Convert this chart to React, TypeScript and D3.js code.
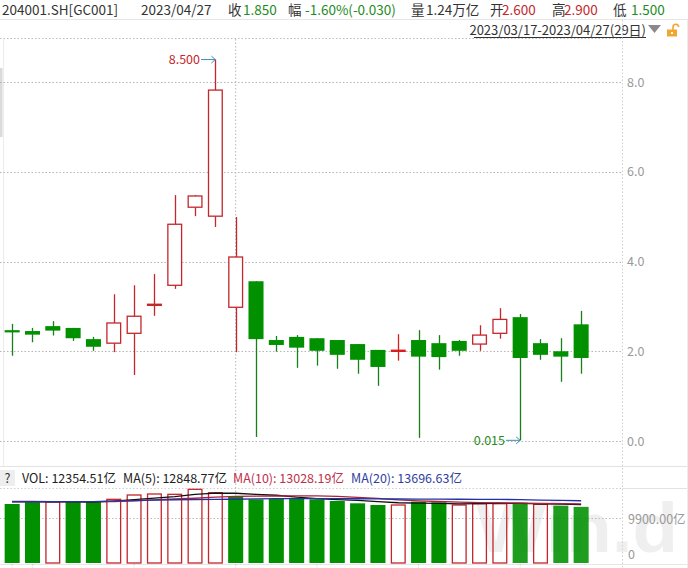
import React from "react";
import * as d3 from "d3";

const dates = [
  "2023-03-17", "2023-03-20", "2023-03-21", "2023-03-22", "2023-03-23", "2023-03-24",
  "2023-03-27", "2023-03-28", "2023-03-29", "2023-03-30", "2023-03-31",
  "2023-04-03", "2023-04-04", "2023-04-06", "2023-04-07",
  "2023-04-10", "2023-04-11", "2023-04-12", "2023-04-13", "2023-04-14",
  "2023-04-17", "2023-04-18", "2023-04-19", "2023-04-20", "2023-04-21",
  "2023-04-24", "2023-04-25", "2023-04-26", "2023-04-27",
];
const openP = [2.47, 2.45, 2.56, 2.52, 2.27, 2.18, 2.40, 3.01, 3.47, 5.21, 5.01, 2.98, 3.56, 2.25, 2.32, 2.29, 2.25, 2.16, 2.03, 2.00, 2.25, 2.18, 2.23, 2.16, 2.40, 2.76, 2.18, 2.00, 2.60];
const highP = [2.61, 2.52, 2.67, 2.52, 2.32, 3.27, 3.47, 3.72, 5.48, 5.48, 8.50, 4.99, 3.56, 2.34, 2.36, 2.29, 2.25, 2.16, 2.03, 2.38, 2.47, 2.36, 2.25, 2.58, 2.96, 2.83, 2.27, 2.29, 2.90];
const lowP = [1.90, 2.20, 2.35, 2.23, 2.01, 1.98, 1.47, 2.79, 3.39, 5.01, 4.77, 1.98, 0.09, 1.99, 1.63, 1.68, 1.61, 1.50, 1.23, 1.79, 0.07, 1.59, 1.90, 2.01, 2.28, 0.015, 1.81, 1.32, 1.50];
const closeP = [2.42, 2.37, 2.46, 2.29, 2.10, 2.63, 2.78, 3.06, 4.83, 5.46, 7.82, 4.10, 2.27, 2.14, 2.08, 2.01, 1.92, 1.81, 1.65, 2.02, 1.88, 1.87, 2.01, 2.36, 2.71, 1.85, 1.92, 1.88, 1.85];

// volume in 亿
const volume = [12980, 13350, 13420, 13640, 13640, 14010, 14960, 15180, 15110, 16210, 15460, 14740, 14010, 14080, 14080, 14010, 13640, 13130, 12760, 12760, 13490, 13350, 12760, 13050, 13050, 13270, 12910, 12610, 12354.51];
const ma5 = [13480, 13470, 13460, 13440, 13406, 13612, 13934, 14286, 14580, 15094, 15384, 15340, 15106, 14900, 14474, 14184, 13964, 13788, 13524, 13260, 13156, 13098, 13024, 13082, 13140, 13096, 13008, 12978, 12848.77];
const ma10 = [13570, 13560, 13520, 13500, 13490, 13500, 13700, 13900, 14080, 14250, 14498, 14637, 14696, 14740, 14784, 14784, 14652, 14447, 14212, 13867, 13670, 13531, 13406, 13303, 13230, 13170, 13110, 13060, 13028.19];
const ma20 = [13490, 13490, 13490, 13490, 13500, 13650, 13720, 13850, 13920, 13950, 14000, 14030, 14120, 14150, 14160, 14160, 14150, 14140, 14120, 14080, 14050, 14040, 14030, 14010, 13990, 13950, 13850, 13760, 13696.63];

const priceTicks = [0, 2, 4, 6, 8];
const volTicks = [0, 9900];
const weekStarts = ["2023-03-17", "2023-03-20", "2023-03-27", "2023-04-03", "2023-04-10", "2023-04-17", "2023-04-24"];
const monthStart = "2023-04-03";

const RED = "#c4262b";
const GREEN = "#009000";
const GREEN_WICK = "#1a7f1a";
const TXT_GREEN = "#1e8c1e";
const FONT = "'Microsoft YaHei','Noto Sans CJK SC','Noto Sans',sans-serif";

const W = 688;
const H = 568;
const plotRight = 622;

export default function App() {
  const x = d3.scaleBand<string>().domain(dates).range([2, 591.3]).paddingInner(0.26).paddingOuter(0.13);
  const bw = x.bandwidth();
  const cx = (d: string) => (x(d) as number) + bw / 2;
  const y = d3.scaleLinear().domain([0, 8]).range([441, 82]);
  const yv = d3.scaleLinear().domain([0, 9900]).range([563, 518]);

  const maLine = (arr: number[]) =>
    d3.line<number>().x((_, i) => cx(dates[i])).y((v) => yv(v))(arr) as string;

  const header: { x: number; t: string; c: string }[] = [
    { x: 2, t: "204001.SH[GC001]", c: "#333" },
    { x: 141, t: "2023/04/27", c: "#333" },
    { x: 228, t: "收", c: "#333" },
    { x: 243, t: "1.850", c: TXT_GREEN },
    { x: 288, t: "幅", c: "#333" },
    { x: 305, t: "-1.60%(-0.030)", c: TXT_GREEN },
    { x: 411, t: "量", c: "#333" },
    { x: 426, t: "1.24万亿", c: "#333" },
    { x: 490, t: "开", c: "#333" },
    { x: 502, t: "2.600", c: RED },
    { x: 552, t: "高", c: "#333" },
    { x: 564, t: "2.900", c: RED },
    { x: 613, t: "低", c: "#333" },
    { x: 631, t: "1.500", c: TXT_GREEN },
  ];

  const volHeader: { x: number; t: string; c: string }[] = [
    { x: 22, t: "VOL: 12354.51亿", c: "#222" },
    { x: 123, t: "MA(5): 12848.77亿", c: "#222" },
    { x: 233, t: "MA(10): 13028.19亿", c: "#c0304a" },
    { x: 351, t: "MA(20): 13696.63亿", c: "#2f3f9f" },
  ];

  const maxIdx = highP.indexOf(d3.max(highP) as number);
  const minIdx = lowP.indexOf(d3.min(lowP) as number);

  return (
    <svg
      width={W}
      height={H}
      style={{ position: "absolute", left: 0, top: 0, background: "#fff", fontFamily: FONT }}
    >
      <rect x={0} y={0} width={W} height={H} fill="#fff" />

      {/* watermark (behind labels) */}
      <text
        x={476}
        y={552}
        fontSize={70}
        fontWeight="bold"
        fontFamily="'Liberation Sans',Arial,sans-serif"
        fill="#efefef"
        textLength={202}
        lengthAdjust="spacingAndGlyphs"
      >
        Win.d
      </text>

      {/* header */}
      {header.map((h, i) => (
        <text key={i} x={h.x} y={15} fontSize={13.5} fill={h.c}>
          {h.t}
        </text>
      ))}
      <line x1={0} x2={W} y1={19.5} y2={19.5} stroke="#e6e6e6" />
      <text x={646} y={35} fontSize={13} fill="#333" textAnchor="end">
        2023/03/17-2023/04/27(29日)
      </text>
      <line x1={474} x2={646} y1={37.5} y2={37.5} stroke="#333" strokeWidth={1} />
      <path d="M648,25 L661,25 L654.5,33 Z" fill="#8a8a8a" />
      <path d="M673,30 V27 a2.8,2.8 0 0 1 5.6,0" stroke="#f2a531" strokeWidth={1.6} fill="none" />
      <rect x={667} y={29.5} width={10} height={7} fill="#f2a531" />
      <rect x={671} y={32} width={2} height={2} fill="#fff" />

      {/* frames */}
      <line x1={0} x2={plotRight} y1={38.5} y2={38.5} stroke="#bdbdbd" strokeDasharray="1.5,2" />
      <line x1={3.5} x2={3.5} y1={39} y2={466} stroke="#ececec" />
      <rect x={0} y={68} width={2.5} height={69} fill="#dadada" />
      <line x1={0} x2={W} y1={466.5} y2={466.5} stroke="#e3e3e3" />
      <line x1={plotRight} x2={W} y1={488.5} y2={488.5} stroke="#e3e3e3" />
      <line x1={0} x2={plotRight} y1={488.5} y2={488.5} stroke="#cfcfcf" strokeDasharray="1.5,2" />
      <line x1={0} x2={W} y1={564.5} y2={564.5} stroke="#e6e6e6" />
      <line x1={plotRight + 0.5} x2={plotRight + 0.5} y1={20} y2={H} stroke="#cfcfcf" strokeDasharray="1.5,2" />
      <line x1={687.5} x2={687.5} y1={20} y2={H} stroke="#ececec" />
      <line x1={cx(monthStart)} x2={cx(monthStart)} y1={39} y2={564} stroke="#b5b5b5" strokeDasharray="1.5,2" />
      {weekStarts.map((d) => (
        <line key={d} x1={cx(d)} x2={cx(d)} y1={564} y2={H} stroke="#c8c8c8" strokeDasharray="1.5,2" />
      ))}

      {/* price grid */}
      {priceTicks.map((t) => (
        <g key={t}>
          <line x1={0} x2={plotRight} y1={Math.round(y(t)) + 0.5} y2={Math.round(y(t)) + 0.5} stroke="#b5b5b5" strokeDasharray="1.5,2" />
          <text x={627} y={y(t) + 4.5} fontSize={12.5} fill="#999">
            {t.toFixed(1)}
          </text>
        </g>
      ))}

      {/* candles */}
      {dates.map((d, i) => {
        const o = openP[i];
        const c = closeP[i];
        const up = c >= o;
        const xc = Math.round(cx(d)) + 0.5;
        const x0 = x(d) as number;
        const top = y(Math.max(o, c));
        const bot = y(Math.min(o, c));
        const hgt = bot - top;
        if (up) {
          if (hgt < 2.5) {
            return (
              <g key={d}>
                <line x1={xc} x2={xc} y1={y(highP[i])} y2={y(lowP[i])} stroke={i === 7 ? RED : "#d81e1e"} strokeWidth={1.3} />
                <rect x={x0} y={(top + bot) / 2 - 1.2} width={bw} height={2.4} fill={i === 7 ? RED : "#d81e1e"} />
              </g>
            );
          }
          return (
            <g key={d}>
              <line x1={xc} x2={xc} y1={y(highP[i])} y2={top} stroke={RED} strokeWidth={1.3} />
              <line x1={xc} x2={xc} y1={bot} y2={y(lowP[i])} stroke={RED} strokeWidth={1.3} />
              <rect x={x0 + 0.65} y={top} width={bw - 1.3} height={hgt} fill="#fff" stroke={RED} strokeWidth={1.3} />
            </g>
          );
        }
        return (
          <g key={d}>
            <line x1={xc} x2={xc} y1={y(highP[i])} y2={y(lowP[i])} stroke={GREEN_WICK} strokeWidth={1.3} />
            <rect x={x0} y={top} width={bw} height={Math.max(hgt, 2)} fill={GREEN} />
          </g>
        );
      })}

      {/* annotations */}
      <g>
        <text x={200} y={y(highP[maxIdx]) + 4.5} fontSize={12.5} fill={RED} textAnchor="end">
          {highP[maxIdx].toFixed(3)}
        </text>
        <line x1={201} x2={cx(dates[maxIdx])} y1={y(highP[maxIdx])} y2={y(highP[maxIdx])} stroke="#3d8db0" strokeWidth={1} />
        <path
          d={`M${cx(dates[maxIdx]) - 4},${y(highP[maxIdx]) - 3.5} L${cx(dates[maxIdx])},${y(highP[maxIdx])} L${cx(dates[maxIdx]) - 4},${y(highP[maxIdx]) + 3.5}`}
          stroke="#3d8db0"
          fill="none"
        />
        <text x={505} y={y(lowP[minIdx]) + 4.5} fontSize={12.5} fill={TXT_GREEN} textAnchor="end">
          {lowP[minIdx].toFixed(3)}
        </text>
        <line x1={506} x2={cx(dates[minIdx])} y1={y(lowP[minIdx])} y2={y(lowP[minIdx])} stroke="#3d8db0" strokeWidth={1} />
        <path
          d={`M${cx(dates[minIdx]) - 4},${y(lowP[minIdx]) - 3.5} L${cx(dates[minIdx])},${y(lowP[minIdx])} L${cx(dates[minIdx]) - 4},${y(lowP[minIdx]) + 3.5}`}
          stroke="#3d8db0"
          fill="none"
        />
      </g>

      {/* volume header */}
      <rect x={0} y={470} width={15} height={16} fill="#eeeeee" />
      <text x={7.5} y={483} fontSize={12.5} fill="#333" textAnchor="middle">?</text>
      {volHeader.map((h, i) => (
        <text key={i} x={h.x} y={483} fontSize={12.5} fill={h.c}>
          {h.t}
        </text>
      ))}

      {/* volume grid */}
      <line x1={0} x2={plotRight} y1={518.5} y2={518.5} stroke="#bdbdbd" strokeDasharray="1.5,2" />
      <text x={628} y={523.5} fontSize={12.5} fill="#999">9900.00亿</text>
      <text x={628} y={559} fontSize={12.5} fill="#999">{volTicks[0]}</text>

      {/* volume bars */}
      {dates.map((d, i) => {
        const prev = i === 0 ? openP[0] : closeP[i - 1];
        const up = closeP[i] >= prev;
        const x0 = x(d) as number;
        const top = yv(volume[i]);
        const h = yv(0) - top;
        return up ? (
          <rect key={d} x={x0 + 0.65} y={top} width={bw - 1.3} height={h} fill="none" stroke={RED} strokeWidth={1.3} />
        ) : (
          <rect key={d} x={x0} y={top} width={bw} height={h} fill={GREEN} opacity={i >= 23 ? 0.88 : 1} />
        );
      })}

      {/* MA lines */}
      <path d={maLine(ma5)} fill="none" stroke="#111" strokeWidth={1.3} />
      <path d={maLine(ma10)} fill="none" stroke="#a8213f" strokeWidth={1.3} />
      <path d={maLine(ma20)} fill="none" stroke="#2333a3" strokeWidth={1.3} />
    </svg>
  );
}
